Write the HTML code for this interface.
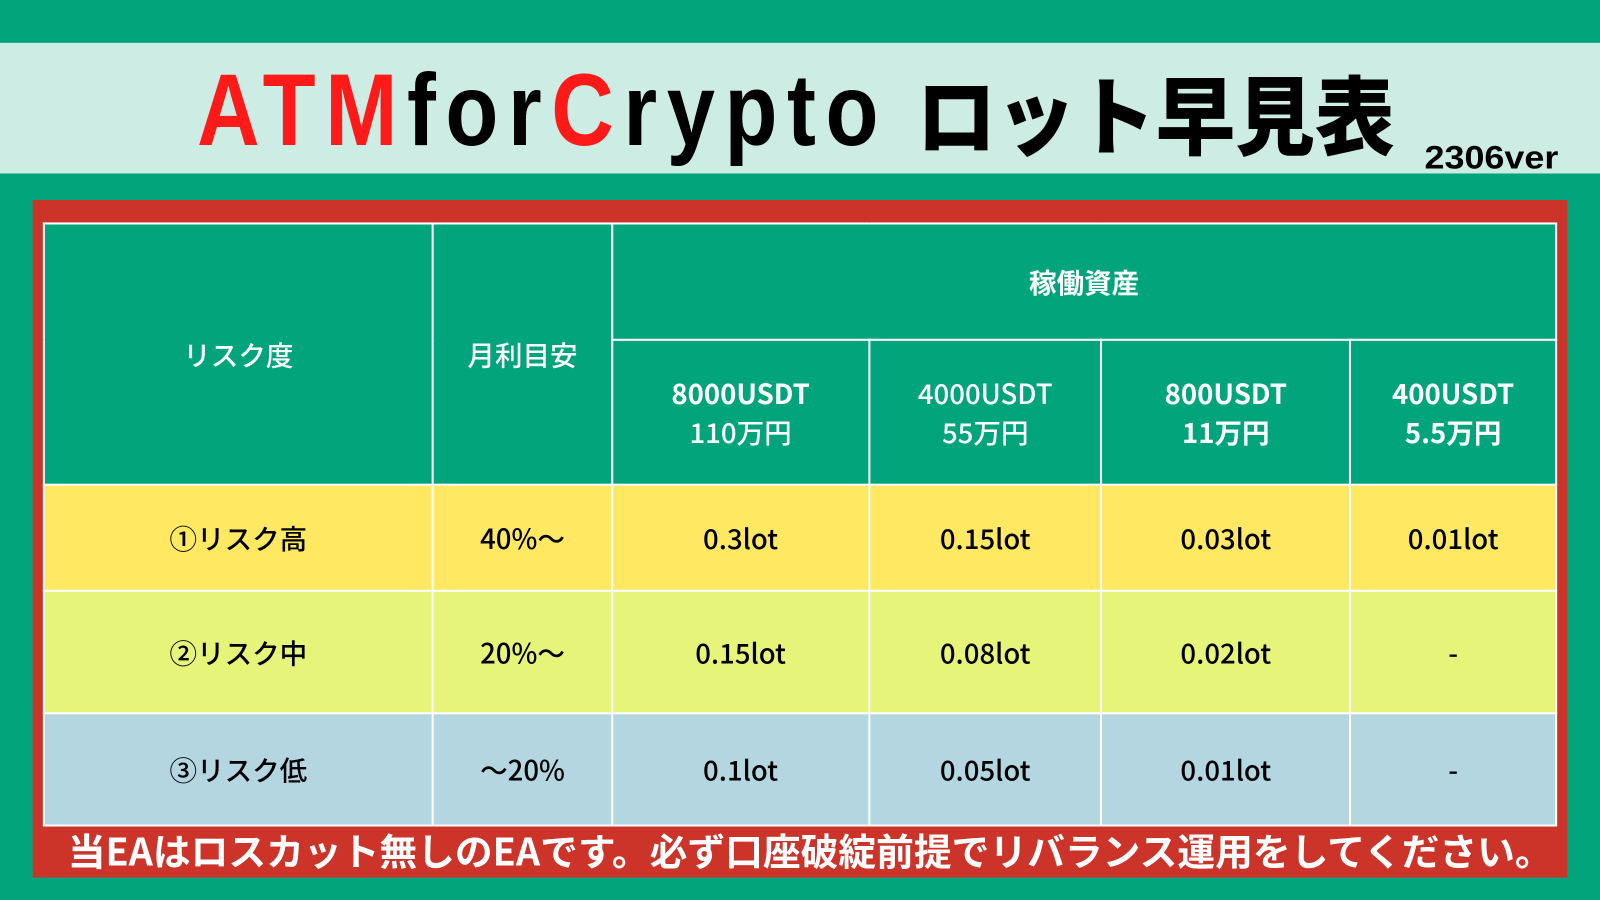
<!DOCTYPE html>
<html><head><meta charset="utf-8"><style>
html,body{margin:0;padding:0;width:1600px;height:900px;overflow:hidden;background:#02a57b}
#w{position:absolute;left:0;top:0;width:1568px;height:882px;transform:scale(1.020408);transform-origin:0 0;font-family:"Liberation Sans","Noto Sans CJK JP",sans-serif}
.band{position:absolute;left:0;top:42px;width:1568px;height:128px;background:#cdece4}
.t1{position:absolute;left:193px;top:48px;font-size:100px;font-weight:bold;white-space:nowrap;transform:scaleX(0.85);transform-origin:0 0;letter-spacing:11px;line-height:120px}
.t2{position:absolute;left:898px;top:50px;font-size:84px;font-weight:900;white-space:nowrap;line-height:120px;font-family:"Noto Sans CJK JP",sans-serif;transform:scaleX(0.93);transform-origin:0 0}
.r{color:#ff1a1a}
.ver{position:absolute;left:1396px;top:134px;font-size:32px;font-weight:bold;transform:scaleX(1.1);transform-origin:0 0;line-height:40px}
.red{position:absolute;left:32px;top:196px;width:1504px;height:664px;background:#cc3329}
table{position:absolute;left:42px;top:218px;border-collapse:collapse;width:1484px;font-family:"Noto Sans CJK JP",sans-serif;font-size:27px;font-weight:500;text-align:center}
td{border:2px solid #fff;padding:0;line-height:38px}
.h td{background:#02a57b;color:#fff}
.y1 td{background:#ffe862}.y2 td{background:#e6f57a}.y3 td{background:#b3d6e0}
.foot{position:absolute;left:42px;top:809px;width:1504px;text-align:center;color:#fff;font-size:37px;font-weight:bold;font-family:"Noto Sans CJK JP",sans-serif;line-height:46px;white-space:nowrap}
</style></head><body><div id="w">
<div class="band"></div>
<div class="t1"><span class="r">ATM</span>for<span class="r">C</span>rypto</div>
<div class="t2">ロット早見表</div>
<div class="ver">2306ver</div>
<div class="red"></div>
<table>
<colgroup><col style="width:382px"><col style="width:176px"><col style="width:252px"><col style="width:228px"><col style="width:244px"><col style="width:202px"></colgroup>
<tr class="h" style="height:114px"><td rowspan="2">リスク度</td><td rowspan="2">月利目安</td><td colspan="4"><b>稼働資産</b></td></tr>
<tr class="h" style="height:142px"><td><b>8000USDT</b><br>110万円</td><td>4000USDT<br>55万円</td><td><b>800USDT<br>11万円</b></td><td><b>400USDT<br>5.5万円</b></td></tr>
<tr class="y1" style="height:104px"><td>①リスク高</td><td>40%～</td><td>0.3lot</td><td>0.15lot</td><td>0.03lot</td><td>0.01lot</td></tr>
<tr class="y2" style="height:120px"><td>②リスク中</td><td>20%～</td><td>0.15lot</td><td>0.08lot</td><td>0.02lot</td><td>-</td></tr>
<tr class="y3" style="height:110px"><td>③リスク低</td><td>～20%</td><td>0.1lot</td><td>0.05lot</td><td>0.01lot</td><td>-</td></tr>
</table>
<div class="foot">当EAはロスカット無しのEAです。必ず口座破綻前提でリバランス運用をしてください。</div>
</div></body></html>
